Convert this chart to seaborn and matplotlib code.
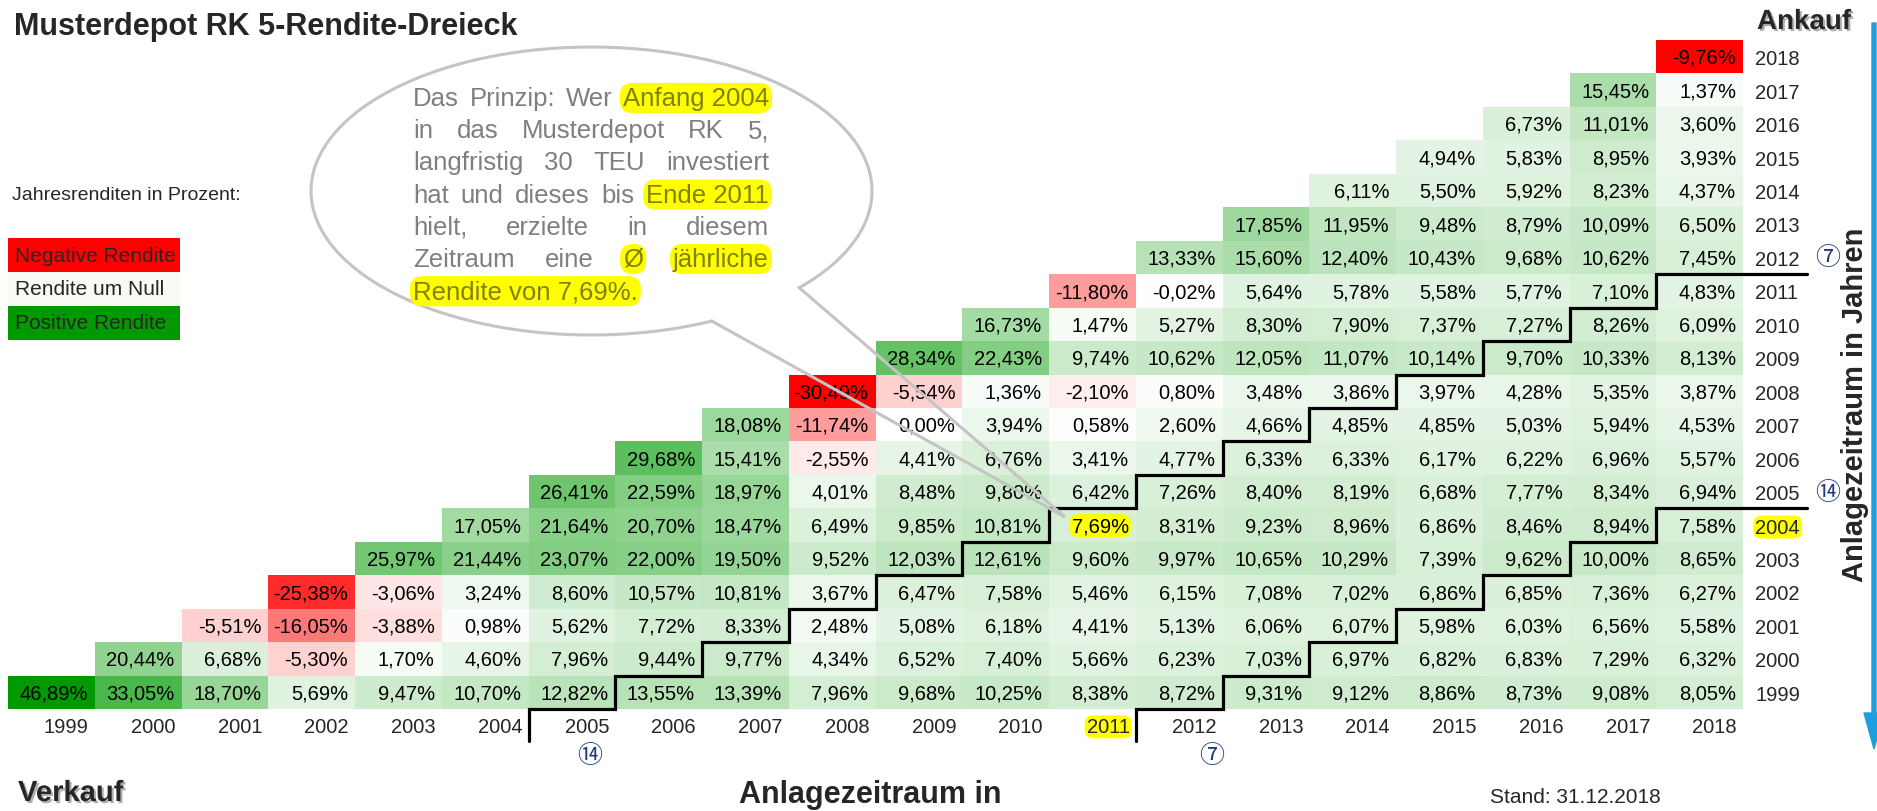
import matplotlib

matplotlib.use("Agg")
import matplotlib.patheffects as pe
import matplotlib.pyplot as plt
import numpy as np
import pandas as pd
import seaborn as sns
from matplotlib.colors import LinearSegmentedColormap, ListedColormap, TwoSlopeNorm
from matplotlib.patches import Ellipse, FancyArrow, Rectangle

sns.set_style("white")
plt.rcParams["font.family"] = ["Liberation Sans", "DejaVu Sans"]

YEARS = list(range(1999, 2019))

# average yearly return (%) per purchase year, sold at end of purchase year ... 2018
buy_1999 = [46.89, 33.05, 18.70, 5.69, 9.47, 10.70, 12.82, 13.55, 13.39, 7.96,
            9.68, 10.25, 8.38, 8.72, 9.31, 9.12, 8.86, 8.73, 9.08, 8.05]
buy_2000 = [20.44, 6.68, -5.30, 1.70, 4.60, 7.96, 9.44, 9.77, 4.34, 6.52,
            7.40, 5.66, 6.23, 7.03, 6.97, 6.82, 6.83, 7.29, 6.32]
buy_2001 = [-5.51, -16.05, -3.88, 0.98, 5.62, 7.72, 8.33, 2.48, 5.08, 6.18,
            4.41, 5.13, 6.06, 6.07, 5.98, 6.03, 6.56, 5.58]
buy_2002 = [-25.38, -3.06, 3.24, 8.60, 10.57, 10.81, 3.67, 6.47, 7.58, 5.46,
            6.15, 7.08, 7.02, 6.86, 6.85, 7.36, 6.27]
buy_2003 = [25.97, 21.44, 23.07, 22.00, 19.50, 9.52, 12.03, 12.61, 9.60, 9.97,
            10.65, 10.29, 7.39, 9.62, 10.00, 8.65]
buy_2004 = [17.05, 21.64, 20.70, 18.47, 6.49, 9.85, 10.81, 7.69, 8.31, 9.23,
            8.96, 6.86, 8.46, 8.94, 7.58]
buy_2005 = [26.41, 22.59, 18.97, 4.01, 8.48, 9.80, 6.42, 7.26, 8.40, 8.19,
            6.68, 7.77, 8.34, 6.94]
buy_2006 = [29.68, 15.41, -2.55, 4.41, 6.76, 3.41, 4.77, 6.33, 6.33, 6.17,
            6.22, 6.96, 5.57]
buy_2007 = [18.08, -11.74, 0.00, 3.94, 0.58, 2.60, 4.66, 4.85, 4.85, 5.03, 5.94, 4.53]
buy_2008 = [-30.49, -5.54, 1.36, -2.10, 0.80, 3.48, 3.86, 3.97, 4.28, 5.35, 3.87]
buy_2009 = [28.34, 22.43, 9.74, 10.62, 12.05, 11.07, 10.14, 9.70, 10.33, 8.13]
buy_2010 = [16.73, 1.47, 5.27, 8.30, 7.90, 7.37, 7.27, 8.26, 6.09]
buy_2011 = [-11.80, -0.02, 5.64, 5.78, 5.58, 5.77, 7.10, 4.83]
buy_2012 = [13.33, 15.60, 12.40, 10.43, 9.68, 10.62, 7.45]
buy_2013 = [17.85, 11.95, 9.48, 8.79, 10.09, 6.50]
buy_2014 = [6.11, 5.50, 5.92, 8.23, 4.37]
buy_2015 = [4.94, 5.83, 8.95, 3.93]
buy_2016 = [6.73, 11.01, 3.60]
buy_2017 = [15.45, 1.37]
buy_2018 = [-9.76]

HIGHLIGHT_BUY = 2004
HIGHLIGHT_SELL = 2011

# staircase lines: holding period, label at right end, label at bottom end
STAIRS = [(7, "\u2466", "\u246d", 0.71), (14, "\u246d", "\u2466", 0.87)]

bubble_lines = [
    [("Das", False), ("Prinzip:", False), ("Wer", False), ("Anfang 2004", True)],
    [("in", False), ("das", False), ("Musterdepot", False), ("RK", False), ("5,", False)],
    [("langfristig", False), ("30", False), ("TEU", False), ("investiert", False)],
    [("hat", False), ("und", False), ("dieses", False), ("bis", False), ("Ende 2011", True)],
    [("hielt,", False), ("erzielte", False), ("in", False), ("diesem", False)],
    [("Zeitraum", False), ("eine", False), ("\u00d8", True), ("j\u00e4hrliche", True)],
    [("Rendite von 7,69%.", True)],
]

# ---------------------------------------------------------------- data frame
rows = YEARS[::-1]
df = pd.DataFrame(np.nan, index=rows, columns=YEARS)
all_rows = [buy_1999, buy_2000, buy_2001, buy_2002, buy_2003, buy_2004, buy_2005,
            buy_2006, buy_2007, buy_2008, buy_2009, buy_2010, buy_2011, buy_2012,
            buy_2013, buy_2014, buy_2015, buy_2016, buy_2017, buy_2018]
for b, vals in zip(YEARS, all_rows):
    df.loc[b, b:] = vals

W, H = 1877, 812
fig = plt.figure(figsize=(W / 100, H / 100), dpi=100)

GX0, GX1, GY0, GY1 = 8, 1743, 41, 710
ax = fig.add_axes([GX0 / W, 1 - GY1 / H, (GX1 - GX0) / W, (GY1 - GY0) / H])

cmap = LinearSegmentedColormap.from_list("rwg", ["#ff0000", "#ffffff", "#009900"])
norm = TwoSlopeNorm(vmin=np.nanmin(df.values), vcenter=0, vmax=np.nanmax(df.values))
sns.heatmap(df, mask=df.isna(), cmap=cmap, norm=norm, cbar=False, ax=ax, linewidths=0)

# latest calendar year is filled solid red in the original
latest = pd.DataFrame(False, index=rows, columns=YEARS)
latest.loc[YEARS[-1], YEARS[-1]] = True
sns.heatmap(df, mask=~latest, cmap=ListedColormap(["#ff0000"]), cbar=False, ax=ax,
            linewidths=0)

ncol = len(YEARS)
for i, b in enumerate(rows):
    for j, s in enumerate(YEARS):
        v = df.loc[b, s]
        if np.isnan(v):
            continue
        label = f"{v:.2f}".replace(".", ",") + "%"
        kw = {}
        if b == HIGHLIGHT_BUY and s == HIGHLIGHT_SELL:
            kw["bbox"] = dict(boxstyle="round,pad=0.12,rounding_size=0.5",
                              fc="#ffff00", ec="none")
        ax.text(j + 1 - 0.08, i + 0.52, label, ha="right", va="center",
                fontsize=14.5, color="black", **kw)

ax.set_xticks(np.arange(ncol) + 0.93)
ax.set_xticklabels(YEARS, rotation=0, ha="right")
ax.yaxis.tick_right()
ax.set_yticks(np.arange(ncol) + 0.5)
ax.set_yticklabels(rows, rotation=0, ha="left")
ax.tick_params(axis="x", length=0, pad=6, labelsize=14.5)
ax.tick_params(axis="y", length=0, pad=9, labelsize=14.5)
hl_box = dict(boxstyle="round,pad=0.1,rounding_size=0.4", fc="#ffff00", ec="none")
for t in ax.get_xticklabels():
    if t.get_text() == str(HIGHLIGHT_SELL):
        t.set_bbox(hl_box)
for t in ax.get_yticklabels():
    if t.get_text() == str(HIGHLIGHT_BUY):
        t.set_bbox(hl_box)
ax.set_xlabel("")
ax.set_ylabel("")

# staircase separators
col_w = (GX1 - GX0) / ncol
row_h = (GY1 - GY0) / ncol
right_ext = (1807 - GX1) / col_w
down_ext = (742 - GY1) / row_h
for n_years, right_lab, bottom_lab, off in STAIRS:
    def yb(s):
        return YEARS[-1] - s + n_years
    xs, ys = [ncol + right_ext], [yb(YEARS[-1])]
    s = YEARS[-1]
    while True:
        j = YEARS.index(s)
        xs += [j + 1, j]
        ys += [yb(s), yb(s)]
        if yb(s) >= ncol:
            break
        s -= 1
    xs.append(j)
    ys.append(ncol + down_ext)
    ax.plot(xs, ys, color="black", lw=2.3, clip_on=False, solid_joinstyle="miter")
    ax.text(ncol + (1828 - GX1) / col_w, yb(YEARS[-1]) - 0.5, right_lab,
            ha="center", va="center", fontsize=18, color="#1f3a7a",
            family=["Noto Sans CJK JP", "DejaVu Sans"])
    ax.text(j + off, ncol + (756 - GY1) / row_h, bottom_lab,
            ha="center", va="center", fontsize=18, color="#1f3a7a",
            family=["Noto Sans CJK JP", "DejaVu Sans"])

# ---------------------------------------------------------------- overlay
ov = fig.add_axes([0, 0, 1, 1])
ov.set_xlim(0, W)
ov.set_ylim(H, 0)
ov.axis("off")
ov.patch.set_alpha(0)

ov.text(14, 35, "Musterdepot RK 5-Rendite-Dreieck", fontsize=22, weight="bold",
        va="baseline")
shadow = [pe.withSimplePatchShadow(offset=(1.5, -1.5), shadow_rgbFace="#606060", alpha=0.5)]
ov.text(1804, 30, "Ankauf", fontsize=20, weight="bold", ha="center", va="baseline",
        path_effects=shadow)
ov.text(18, 802, "Verkauf", fontsize=21, weight="bold", va="baseline",
        path_effects=shadow)
ov.text(870, 803, "Anlagezeitraum in", fontsize=22, weight="bold", ha="center",
        va="baseline")
ov.text(1575, 803, "Stand: 31.12.2018", fontsize=15, ha="center", va="baseline")
ov.text(1855, 405, "Anlagezeitraum in Jahren", fontsize=21, weight="bold",
        rotation=90, ha="center", va="center")
ov.add_patch(FancyArrow(1874, 24, 0, 726, width=4, head_width=20, head_length=36,
                        length_includes_head=True, color="#1c9fdc", clip_on=False))

# legend
ov.text(12, 200, "Jahresrenditen in Prozent:", fontsize=14, va="baseline")
legend_items = [("Negative Rendite", "#ff0000"), ("Rendite um Null", "#f8faf4"),
                ("Positive Rendite", "#009900")]
for k, (lab, col) in enumerate(legend_items):
    y0 = 239 + k * 34
    ov.add_patch(Rectangle((8, y0), 172, 34, fc=col, ec="none"))
    ov.text(15, y0 + 17, lab, fontsize=15, va="center")

# speech bubble
cx, cy, a, b = 591.5, 192, 280.5, 144
tip = (1065, 518)
ov.add_patch(Ellipse((cx, cy), 2 * a, 2 * b, fc="white", ec="none"))
t0, t1 = np.deg2rad(64.6), np.deg2rad(42.2 + 360)
tt = np.linspace(t0, t1, 400)
px = list(cx + a * np.cos(tt)) + [tip[0], cx + a * np.cos(t0)]
py = list(cy + b * np.sin(tt)) + [tip[1], cy + b * np.sin(t0)]
ov.plot(px, py, color="#c4c4c4", lw=2.2, solid_joinstyle="miter")

fig.canvas.draw()
renderer = fig.canvas.get_renderer()
BX0, BX1 = 413, 769
for k, line in enumerate(bubble_lines):
    y = 106 + k * 32.2
    items = []
    for word, hl in line:
        kw = {}
        color = "#7f7f7f"
        if hl:
            color = "#80800a"
            kw["bbox"] = dict(boxstyle="round,pad=0.12,rounding_size=0.5",
                              fc="#ffff00", ec="none")
        items.append(ov.text(0, y, word, fontsize=18.5, va="baseline",
                             color=color, **kw))
    widths = [t.get_window_extent(renderer).width for t in items]
    if k == len(bubble_lines) - 1 or len(items) == 1:
        gap = 7
    else:
        gap = (BX1 - BX0 - sum(widths)) / (len(items) - 1)
    x = BX0
    for t, w in zip(items, widths):
        t.set_x(x)
        x += w + gap

fig.savefig("out.png", dpi=100)
